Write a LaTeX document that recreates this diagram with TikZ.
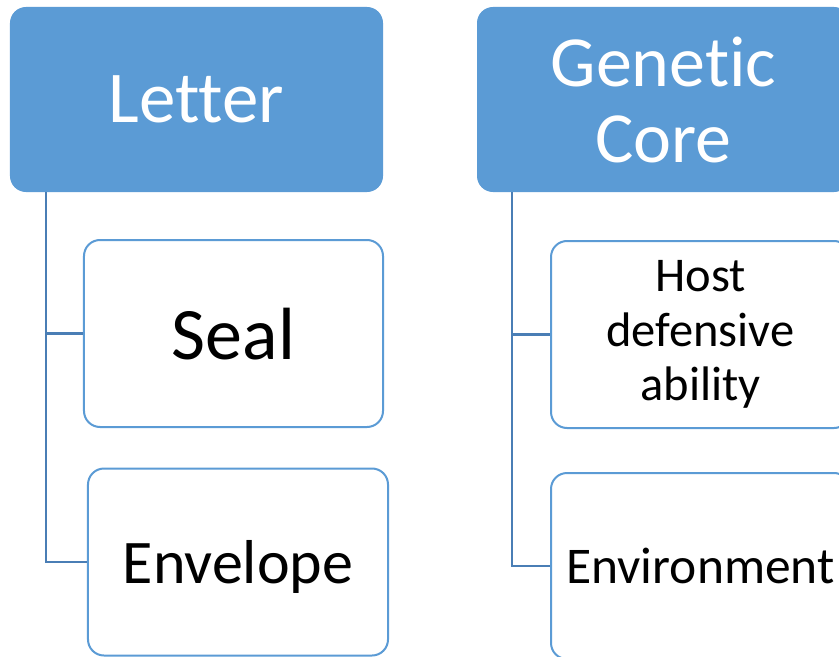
\documentclass[tikz,border=0pt]{standalone}
\usepackage{fontspec}
\setmainfont[RawFeature={-liga}]{Carlito}
\definecolor{headblue}{HTML}{5B9BD5}
\definecolor{edgeblue}{HTML}{5B9BD5}
\definecolor{linkblue}{HTML}{4A7EB5}
\tikzset{
  headbox/.style={draw=headblue, fill=headblue, line width=2bp, rounded corners=15bp,
    inner sep=0pt, text=white, align=center},
  itembox/.style={draw=edgeblue, fill=white, line width=2bp, rounded corners=16bp,
    inner sep=0pt, text=black, align=center},
  link/.style={draw=linkblue, line width=2.5bp},
}
\begin{document}
\begin{tikzpicture}[x=1bp, y=-1bp]
  \useasboundingbox (0,0) rectangle (839,657);
  \clip (0,0) rectangle (839,657);

  % left column
  \node[headbox, minimum width=371bp, minimum height=183bp, text depth=0pt,
        font=\fontsize{73bp}{78bp}\selectfont] (letter) at (196.5,99.5) {Letter};
  \node[itembox, minimum width=299bp, minimum height=187bp, text depth=0pt,
        font=\fontsize{74bp}{78bp}\selectfont] (seal) at (233.5,333.5) {Seal};
  \node[itembox, minimum width=300bp, minimum height=187bp, text depth=0pt,
        font=\fontsize{62bp}{70bp}\selectfont] (envelope) at (238,562) {Envelope};

  % right column
  \node[headbox, minimum width=371bp, minimum height=183bp,
        font=\fontsize{72bp}{76bp}\selectfont] (core) at (663.5,99.5) {Genetic\\Core};
  \node[itembox, minimum width=299bp, minimum height=187bp,
        font=\fontsize{48.5bp}{54.5bp}\selectfont] (host) at (700.5,334.5) {Host\\defensive\\ability};
  \node[itembox, minimum width=299bp, minimum height=186bp, text depth=0pt,
        font=\fontsize{51.5bp}{60bp}\selectfont] (environment) at (700.5,566) {Environment};

  % tree connectors
  \coordinate (lt) at ([xshift=36bp]letter.south west);
  \coordinate (rt) at ([xshift=35bp]core.south west);
  \draw[link] (lt) |- (seal.west);
  \draw[link] (lt) |- (envelope.west);
  \draw[link] (rt) |- (host.west);
  \draw[link] (rt) |- (environment.west);
\end{tikzpicture}
\end{document}
